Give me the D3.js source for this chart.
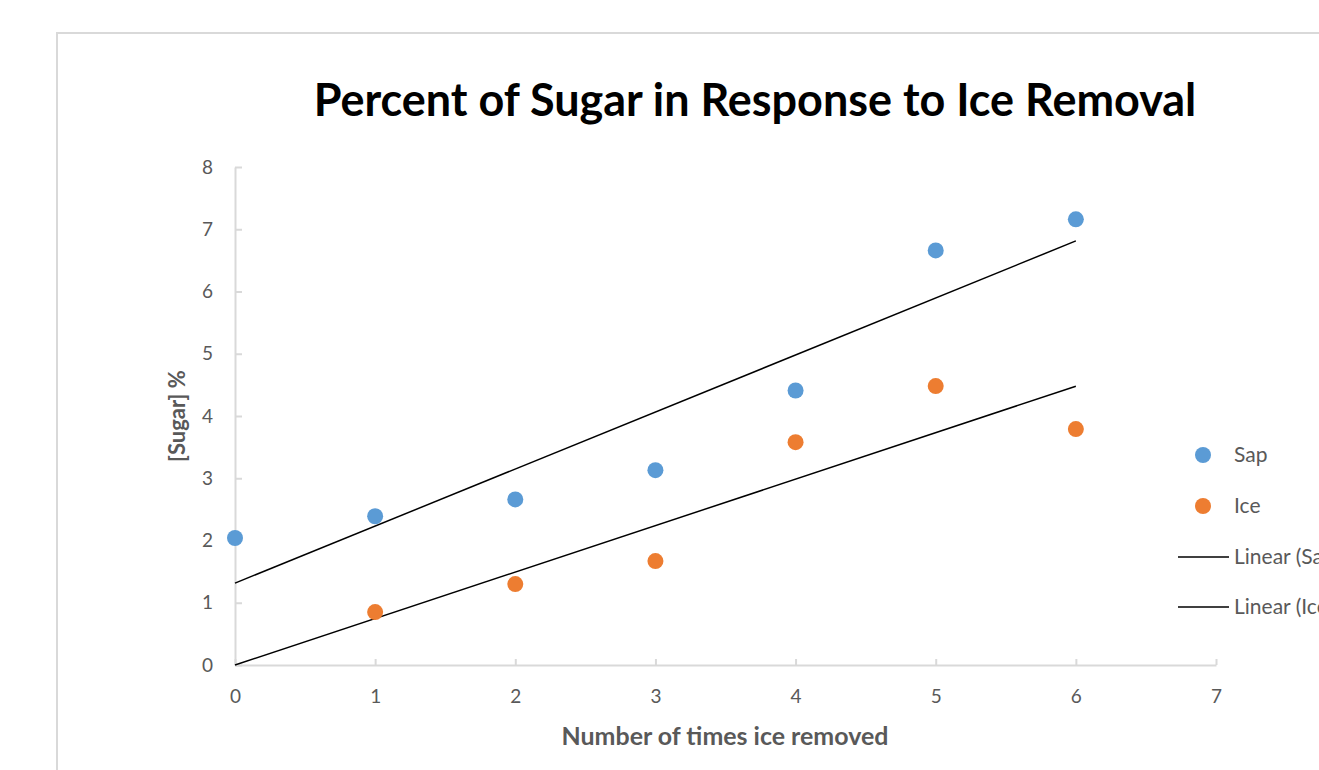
<!DOCTYPE html>
<html>
<head>
<meta charset="utf-8">
<script src="https://cdn.jsdelivr.net/npm/d3@7"></script>
<style>
  html, body { margin: 0; padding: 0; background: #fff; overflow: hidden; }
  svg { display: block; font-family: Lato, "Open Sans", sans-serif; }
</style>
</head>
<body>
<div id="chart"></div>
<script>
// data
const timesRemoved = [0, 1, 2, 3, 4, 5, 6];
const sapSugar = [2.04, 2.39, 2.66, 3.13, 4.41, 6.66, 7.16];
const iceTimes = [1, 2, 3, 4, 5, 6];
const iceSugar = [0.85, 1.30, 1.67, 3.58, 4.48, 3.79];
const xTicks = [0, 1, 2, 3, 4, 5, 6, 7];
const yTicks = [0, 1, 2, 3, 4, 5, 6, 7, 8];
const legendLabels = ["Sap", "Ice", "Linear (Sap)", "Linear (Ice)"];

const width = 1319, height = 770;
const sapColor = "#5B9BD5", iceColor = "#ED7D31";
const grey = "#595959", axisGrey = "#d9d9d9";

const svg = d3.select("#chart").append("svg")
    .attr("width", width)
    .attr("height", height);

// chart frame
svg.append("rect")
    .attr("x", 57).attr("y", 33)
    .attr("width", 1400).attr("height", 800)
    .attr("fill", "none")
    .attr("stroke", axisGrey)
    .attr("stroke-width", 2);

const x = d3.scaleLinear().domain([0, 7]).range([235, 1216]);
const y = d3.scaleLinear().domain([0, 8]).range([665, 167]);

// axes
const xAxis = svg.append("g")
    .attr("transform", `translate(0,${y(0)})`)
    .call(d3.axisBottom(x).tickValues(xTicks).tickFormat(d3.format("d"))
      .tickSizeInner(-6).tickSizeOuter(0).tickPadding(34));
const yAxis = svg.append("g")
    .attr("transform", `translate(${x(0)},0)`)
    .call(d3.axisLeft(y).tickValues(yTicks).tickFormat(d3.format("d"))
      .tickSizeInner(-7).tickSizeOuter(0).tickPadding(22));

[xAxis, yAxis].forEach(g => {
  g.select(".domain").attr("stroke", axisGrey).attr("stroke-width", 2);
  g.selectAll(".tick line").attr("stroke", axisGrey).attr("stroke-width", 2);
  g.selectAll(".tick text")
      .attr("fill", grey)
      .style("font-size", "19px")
      .style("font-family", "Lato, 'Open Sans', sans-serif");
});
xAxis.selectAll(".tick text").attr("dy", "0.2em");

// trend lines (least squares)
function fitLine(xs, ys) {
  const mx = d3.mean(xs), my = d3.mean(ys);
  const slope = d3.sum(xs, (v, i) => (v - mx) * (ys[i] - my)) / d3.sum(xs, v => (v - mx) * (v - mx));
  return {slope, intercept: my - slope * mx};
}
function fitOrigin(xs, ys) {
  const slope = d3.sum(xs, (v, i) => v * ys[i]) / d3.sum(xs, v => v * v);
  return {slope, intercept: 0};
}
const sapFit = fitLine(timesRemoved, sapSugar);
const iceFit = fitOrigin(iceTimes, iceSugar);

const trends = svg.append("g");
[sapFit, iceFit].forEach(f => {
  trends.append("line")
      .attr("x1", x(0)).attr("y1", y(f.intercept))
      .attr("x2", x(6)).attr("y2", y(f.intercept + f.slope * 6))
      .attr("stroke", "#000")
      .attr("stroke-width", 1.5);
});

// points
svg.append("g").selectAll("circle")
    .data(timesRemoved.map((t, i) => [t, sapSugar[i]]))
    .join("circle")
    .attr("cx", d => x(d[0]))
    .attr("cy", d => y(d[1]))
    .attr("r", 8)
    .attr("fill", sapColor);

svg.append("g").selectAll("circle")
    .data(iceTimes.map((t, i) => [t, iceSugar[i]]))
    .join("circle")
    .attr("cx", d => x(d[0]))
    .attr("cy", d => y(d[1]))
    .attr("r", 8)
    .attr("fill", iceColor);

// title
const title = svg.append("text")
    .attr("x", 755)
    .attr("y", 116)
    .attr("text-anchor", "middle")
    .attr("fill", "#000")
    .style("font-weight", "bold")
    .style("font-size", "40px")
    .text("Percent of Sugar in Response to Ice Removal");
const tw = title.node().getComputedTextLength();
title.style("font-size", (40 * 883 / tw) + "px");

// axis titles
const xTitle = svg.append("text")
    .attr("x", 725)
    .attr("y", 745)
    .attr("text-anchor", "middle")
    .attr("fill", grey)
    .style("font-weight", "bold")
    .style("font-size", "22px")
    .text("Number of times ice removed");
const xw = xTitle.node().getComputedTextLength();
xTitle.style("font-size", (22 * 327 / xw) + "px");

svg.append("text")
    .attr("transform", `translate(185,${(y(0) + y(8)) / 2}) rotate(-90)`)
    .attr("text-anchor", "middle")
    .attr("fill", grey)
    .style("font-weight", "bold")
    .style("font-size", "22px")
    .text("[Sugar] %");

// legend
const legend = svg.append("g");
const legendY = [455, 506, 557, 607];
legendLabels.forEach((lab, i) => {
  const g = legend.append("g").attr("transform", `translate(0,${legendY[i]})`);
  if (i < 2) {
    g.append("circle")
        .attr("cx", 1203).attr("cy", 0).attr("r", 8)
        .attr("fill", i === 0 ? sapColor : iceColor);
  } else {
    g.append("line")
        .attr("x1", 1178).attr("x2", 1229)
        .attr("y1", 0).attr("y2", 0)
        .attr("stroke", "#000").attr("stroke-width", 1.5);
  }
  g.append("text")
      .attr("x", 1234)
      .attr("y", 0)
      .attr("dy", "0.35em")
      .attr("fill", grey)
      .style("font-size", "21px")
      .text(lab);
});
</script>
</body>
</html>
